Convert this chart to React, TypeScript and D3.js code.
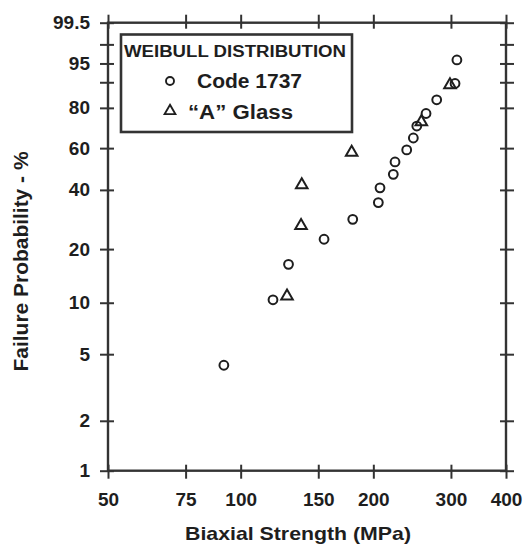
import React, { useRef, useEffect } from 'react';
import * as d3 from 'd3';

// Code 1737 glass (circles)
const code1737Strength = [91.6, 118.4, 128.4, 154.6, 179.6, 205.3, 207.1, 222.0, 224.0, 238.1, 246.5, 251.0, 263.4, 278.5, 306.5, 309.5];
const code1737Prob = [4.3, 10.4, 16.5, 22.6, 28.7, 34.8, 40.9, 47.0, 53.0, 59.1, 65.2, 71.3, 77.4, 83.5, 89.6, 95.7];

// "A" glass (triangles)
const glassAStrength = [127.4, 137.1, 137.6, 178.6, 257.0, 298.5];
const glassAProb = [10.9, 26.6, 42.2, 57.8, 73.4, 89.1];

const xTicks = [50, 75, 100, 150, 200, 300, 400];
const yTicks = [1, 2, 5, 10, 20, 40, 60, 80, 90, 95, 98, 99.5];
const yTickLabels = ['1', '2', '5', '10', '20', '40', '60', '80', '', '95', '', '99.5'];

const FONT = "'Liberation Sans', Arial, Helvetica, sans-serif";
const INK = '#1e1e1e';

const weib = (p: number) => Math.log(-Math.log(1 - p / 100));

export default function App() {
  const svgRef = useRef<SVGSVGElement>(null);

  useEffect(() => {
    const svg = d3.select(svgRef.current);
    svg.selectAll('*').remove();

    const left = 108, right = 506, top = 22.7, bottom = 470.7;

    const x = d3.scaleLog().domain([50, 400]).range([left, right]);
    const yw = d3.scaleLinear().domain([weib(1), weib(99.5)]).range([bottom, top]);
    const y = (p: number) => yw(weib(p));

    // frame
    svg.append('rect')
      .attr('x', left).attr('y', top)
      .attr('width', right - left).attr('height', bottom - top)
      .attr('fill', 'none').attr('stroke', '#333').attr('stroke-width', 2.4);

    const styleAxis = (g: any) => {
      g.select('.domain').remove();
      g.selectAll('.tick line').attr('stroke', '#333').attr('stroke-width', 2);
      g.selectAll('.tick text')
        .attr('fill', INK)
        .style('font-family', FONT)
        .style('font-weight', 'bold')
        .style('font-size', '19px');
    };

    // bottom axis
    const gb = svg.append('g').attr('transform', `translate(0,${bottom})`)
      .call(d3.axisBottom(x).tickValues(xTicks).tickFormat(d3.format('d')).tickSize(8).tickPadding(14));
    styleAxis(gb);
    gb.selectAll('.tick line').attr('y1', -6);

    // top axis
    const gt = svg.append('g').attr('transform', `translate(0,${top})`)
      .call(d3.axisTop(x).tickValues(xTicks).tickFormat(() => '').tickSize(8));
    styleAxis(gt);
    gt.selectAll('.tick line').attr('y1', 6);

    // left axis
    const gl = svg.append('g').attr('transform', `translate(${left},0)`)
      .call(d3.axisLeft(yw).tickValues(yTicks.map(weib))
        .tickFormat((_d: any, i: number) => yTickLabels[i]).tickSize(8).tickPadding(10));
    styleAxis(gl);
    gl.selectAll('.tick line').attr('x1', 6);

    // right axis
    const gr = svg.append('g').attr('transform', `translate(${right},0)`)
      .call(d3.axisRight(yw).tickValues(yTicks.map(weib)).tickFormat(() => '').tickSize(8));
    styleAxis(gr);
    gr.selectAll('.tick line').attr('x1', -6);

    // data: circles
    svg.append('g').selectAll('circle')
      .data(code1737Strength)
      .join('circle')
      .attr('cx', d => x(d))
      .attr('cy', (_d, i) => y(code1737Prob[i]))
      .attr('r', 4.4)
      .attr('fill', 'none')
      .attr('stroke', INK)
      .attr('stroke-width', 2);

    // data: triangles
    const tri = d3.symbol().type(d3.symbolTriangle).size(58);
    svg.append('g').selectAll('path')
      .data(glassAStrength)
      .join('path')
      .attr('d', tri)
      .attr('transform', (d, i) => `translate(${x(d)},${y(glassAProb[i])})`)
      .attr('fill', 'none')
      .attr('stroke', INK)
      .attr('stroke-width', 2);

    // legend
    const lg = svg.append('g');
    lg.append('rect')
      .attr('x', 121).attr('y', 34.5).attr('width', 231).attr('height', 97.5)
      .attr('fill', 'white').attr('stroke', '#333').attr('stroke-width', 2.6);
    lg.append('text')
      .attr('x', 124).attr('y', 56.5)
      .attr('textLength', 222).attr('lengthAdjust', 'spacingAndGlyphs')
      .style('font-family', FONT).style('font-weight', 'bold').style('font-size', '16px')
      .attr('fill', INK)
      .text('WEIBULL DISTRIBUTION');
    lg.append('circle')
      .attr('cx', 170).attr('cy', 81).attr('r', 4)
      .attr('fill', 'none').attr('stroke', INK).attr('stroke-width', 1.9);
    lg.append('path')
      .attr('d', d3.symbol().type(d3.symbolTriangle).size(50)())
      .attr('transform', 'translate(170,111)')
      .attr('fill', 'none').attr('stroke', INK).attr('stroke-width', 1.9);
    lg.append('text')
      .attr('x', 197).attr('y', 88)
      .attr('textLength', 105).attr('lengthAdjust', 'spacingAndGlyphs')
      .style('font-family', FONT).style('font-weight', 'bold').style('font-size', '20px')
      .attr('fill', INK)
      .text('Code 1737');
    lg.append('text')
      .attr('x', 188).attr('y', 119)
      .attr('textLength', 105).attr('lengthAdjust', 'spacingAndGlyphs')
      .style('font-family', FONT).style('font-weight', 'bold').style('font-size', '20px')
      .attr('fill', INK)
      .text('\u201CA\u201D Glass');

    // axis titles
    svg.append('text')
      .attr('x', 298).attr('y', 540)
      .attr('text-anchor', 'middle')
      .attr('textLength', 226).attr('lengthAdjust', 'spacingAndGlyphs')
      .style('font-family', FONT).style('font-weight', 'bold').style('font-size', '19px')
      .attr('fill', INK)
      .text('Biaxial Strength (MPa)');
    svg.append('text')
      .attr('transform', 'translate(28,261.5) rotate(-90)')
      .attr('text-anchor', 'middle')
      .attr('textLength', 220).attr('lengthAdjust', 'spacingAndGlyphs')
      .style('font-family', FONT).style('font-weight', 'bold').style('font-size', '20px')
      .attr('fill', INK)
      .text('Failure Probability - %');
  }, []);

  return (
    <svg
      ref={svgRef}
      width={523}
      height={546}
      style={{ position: 'absolute', left: 0, top: 0, background: 'white' }}
    />
  );
}
